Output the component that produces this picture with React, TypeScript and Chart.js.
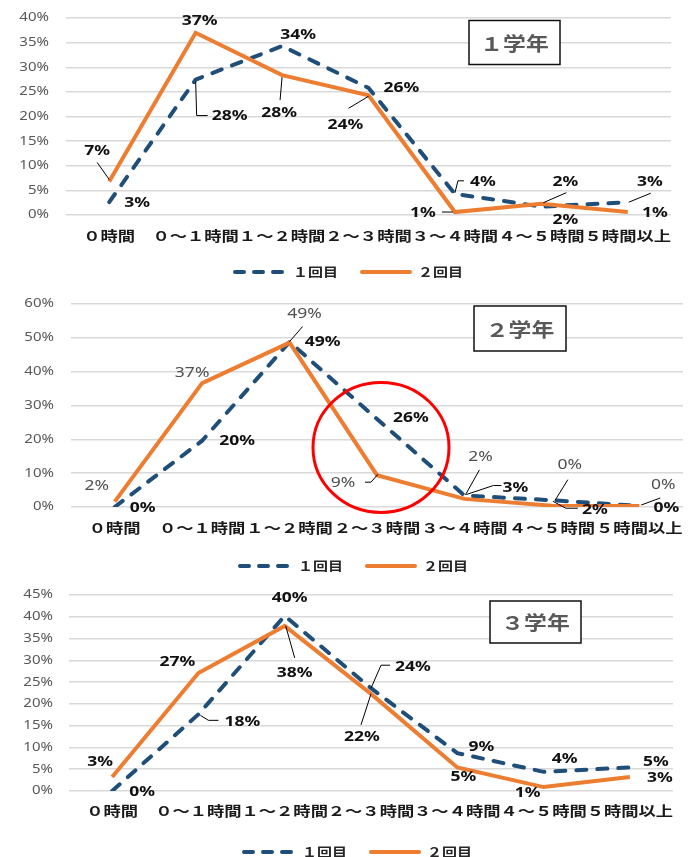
import React, { useEffect, useRef } from 'react';
import { Chart, registerables } from 'chart.js';

Chart.register(...registerables);

// ---------- data ----------
const categories = ['０時間', '０～１時間', '１～２時間', '２～３時間', '３～４時間', '４～５時間', '５時間以上'];
const seriesNames = ['１回目', '２回目'];
const titles = ['１学年', '２学年', '３学年'];

const grade1First = [2.6, 27.5, 34.3, 25.8, 4.3, 1.7, 2.6];
const grade1Second = [6.8, 37, 28.4, 24.3, 0.6, 2.3, 0.6];
const grade2First = [0, 19.6, 48.8, 26, 3.4, 2.0, 0.3];
const grade2Second = [1.6, 36.6, 48.6, 9.4, 2.4, 0.4, 0.3];
const grade3First = [0, 17.6, 40.2, 23.6, 8.7, 4.4, 5.4];
const grade3Second = [3.2, 27.1, 37.9, 22.3, 5.4, 0.9, 3.2];

const grade1Ticks = [0, 5, 10, 15, 20, 25, 30, 35, 40];
const grade2Ticks = [0, 10, 20, 30, 40, 50, 60];
const grade3Ticks = [0, 5, 10, 15, 20, 25, 30, 35, 40, 45];

// ---------- styles / layout ----------
const BLUE = '#1F4E79';
const ORANGE = '#ED7D31';
const FONT = '"Noto Sans", "Noto Sans CJK JP", sans-serif';
const CJK_FONT = '"Noto Sans CJK JP", "Noto Sans", sans-serif';

type Pt = [number, number];
interface SeriesLayout {
  offsets: Pt[];
  leaders: Record<number, Pt[]>;
  color: string;
  weight: string;
}

const layout1: SeriesLayout[] = [
  {
    offsets: [[28, 1], [34, 36], [16, -11], [33, 0], [28, -12], [24, 13], [22, -20]],
    leaders: { 1: [[0, 2], [1, 36], [12, 36]], 4: [[0, -1], [3, -13], [9, -13]], 6: [[1, 0], [23, -9]] },
    color: '#111', weight: 'bold',
  },
  {
    offsets: [[-12, -30], [4, -12], [-3, 38], [-23, 30], [-32, 1], [24, -22], [27, 1]],
    leaders: { 0: [[0, -2], [-12, -19]], 2: [[0, 2], [-2, 25]], 3: [[0, 1], [-20, 13]], 4: [[-2, 0], [-13, 0]], 5: [[2, -1], [25, -11]] },
    color: '#111', weight: 'bold',
  },
];
const layout2: SeriesLayout[] = [
  {
    offsets: [[28, 1], [35, 0], [33, 0], [34, -1], [51, -7], [43, 10], [27, 2]],
    leaders: { 4: [[2, -1], [29, -10], [37, -10]], 5: [[1, 1], [14, 8], [26, 8]] },
    color: '#111', weight: 'bold',
  },
  {
    offsets: [[-18, -16], [-10, -10], [15, -29], [-34, 8], [16, -42], [18, -41], [24, -21]],
    leaders: { 2: [[0, -1], [13, -16]], 3: [[1, -1], [-6, 7], [-12, 7]], 4: [[1, -4], [15, -29]], 5: [[3, -5], [16, -26]], 6: [[2, -1], [21, -8]] },
    color: '#505050', weight: 'normal',
  },
];
const layout3: SeriesLayout[] = [
  {
    offsets: [[30, 1], [44, 8], [5, -18], [42, -21], [24, -6], [21, -13], [26, -5]],
    leaders: { 1: [[2, 1], [10, 6], [20, 6]], 3: [[0, 0], [10, -23], [19, -23]] },
    color: '#111', weight: 'bold',
  },
  {
    offsets: [[-12, -15], [-21, -11], [10, 47], [-9, 43], [6, 10], [-16, 6], [30, 1]],
    leaders: { 2: [[1, 0], [10, 32]], 3: [[0, 0], [-10, 31]] },
    color: '#111', weight: 'bold',
  },
];

interface Panel {
  title: string;
  first: number[];
  second: number[];
  ticks: number[];
  top: number;
  height: number;
  yWidth: number;
  padTop: number;
  padRight: number;
  xHeight: number;
  tickPad: number;
  xLabelGap: number;
  box: { cx: number; cy: number; w: number; h: number };
  legend: { x: number; y: number };
  layout: SeriesLayout[];
  circle: null | { index: number; value: number; dx: number; rx: number; ry: number };
}

const panels: Panel[] = [
  {
    title: titles[0], first: grade1First, second: grade1Second, ticks: grade1Ticks,
    top: 0, height: 290, yWidth: 66, padTop: 18, padRight: 25, xHeight: 75, tickPad: 17, xLabelGap: 21,
    box: { cx: 514.5, cy: 42.5, w: 91, h: 44 }, legend: { x: 233, y: 272 }, layout: layout1, circle: null,
  },
  {
    title: titles[1], first: grade2First, second: grade2Second, ticks: grade2Ticks,
    top: 290, height: 290, yWidth: 71, padTop: 14, padRight: 13, xHeight: 73, tickPad: 17, xLabelGap: 21,
    box: { cx: 520, cy: 38.5, w: 92, h: 45 }, legend: { x: 238, y: 276 }, layout: layout2,
    circle: { index: 3, value: 17.6, dx: 4, rx: 68, ry: 65 },
  },
  {
    title: titles[2], first: grade3First, second: grade3Second, ticks: grade3Ticks,
    top: 580, height: 277, yWidth: 69, padTop: 15, padRight: 23, xHeight: 66, tickPad: 16, xLabelGap: 20,
    box: { cx: 535.5, cy: 42, w: 91, h: 42 }, legend: { x: 242, y: 272 }, layout: layout3, circle: null,
  },
];

function drawText(
  ctx: CanvasRenderingContext2D, text: string, x: number, y: number,
  size: number, weight: string, color: string, align: CanvasTextAlign = 'center', sx = 1.25, family = FONT,
) {
  ctx.save();
  ctx.font = `${weight} ${size}px ${family}`;
  ctx.fillStyle = color;
  ctx.textAlign = align;
  ctx.textBaseline = 'middle';
  ctx.translate(x, y);
  ctx.scale(sx, 1);
  ctx.fillText(text, 0, 0);
  ctx.restore();
}

function makeOverlay(p: Panel) {
  return {
    id: 'overlay',
    afterDraw(chart: any) {
      const ctx: CanvasRenderingContext2D = chart.ctx;
      const { left, bottom } = chart.chartArea;
      const xs = chart.scales.x;
      const ys = chart.scales.y;

      // y tick labels
      p.ticks.forEach((v) => {
        drawText(ctx, `${v}%`, left - p.tickPad, ys.getPixelForValue(v), 12, 'normal', '#595959', 'right', 1.25);
      });
      // x category labels
      categories.forEach((c, i) => {
        drawText(ctx, c, xs.getPixelForValue(i), bottom + p.xLabelGap, 13.5, 'bold', '#1a1a1a', 'center', 1.28, CJK_FONT);
      });

      // red circle annotation
      if (p.circle) {
        const cx = xs.getPixelForValue(p.circle.index) + p.circle.dx;
        const cy = ys.getPixelForValue(p.circle.value);
        ctx.save();
        ctx.strokeStyle = '#FF0000';
        ctx.lineWidth = 3;
        ctx.beginPath();
        ctx.ellipse(cx, cy, p.circle.rx, p.circle.ry, 0, 0, Math.PI * 2);
        ctx.stroke();
        ctx.restore();
      }

      // leader lines & data labels
      [0, 1].forEach((di) => {
        const meta = chart.getDatasetMeta(di);
        const lay = p.layout[di];
        const vals = di === 0 ? p.first : p.second;
        meta.data.forEach((pt: any, i: number) => {
          const lead = lay.leaders[i];
          if (lead) {
            ctx.save();
            ctx.strokeStyle = '#000';
            ctx.lineWidth = 1;
            ctx.beginPath();
            lead.forEach(([dx, dy], k) => {
              if (k === 0) ctx.moveTo(pt.x + dx, pt.y + dy);
              else ctx.lineTo(pt.x + dx, pt.y + dy);
            });
            ctx.stroke();
            ctx.restore();
          }
          const [dx, dy] = lay.offsets[i];
          drawText(ctx, `${Math.round(vals[i])}%`, pt.x + dx, pt.y + dy, 14, lay.weight, lay.color, 'center', 1.25);
        });
      });

      // title box
      const b = p.box;
      ctx.save();
      ctx.fillStyle = '#fff';
      ctx.fillRect(b.cx - b.w / 2, b.cy - b.h / 2, b.w, b.h);
      ctx.strokeStyle = '#111';
      ctx.lineWidth = 1.5;
      ctx.strokeRect(b.cx - b.w / 2, b.cy - b.h / 2, b.w, b.h);
      ctx.restore();
      drawText(ctx, p.title, b.cx, b.cy + 1, 19, 'bold', '#595959', 'center', 1.2, CJK_FONT);

      // legend
      const lx = p.legend.x;
      const ly = p.legend.y;
      ctx.save();
      ctx.lineWidth = 4;
      ctx.lineCap = 'round';
      ctx.strokeStyle = BLUE;
      ctx.setLineDash([9, 10]);
      ctx.beginPath();
      ctx.moveTo(lx + 2, ly);
      ctx.lineTo(lx + 52, ly);
      ctx.stroke();
      ctx.setLineDash([]);
      ctx.strokeStyle = ORANGE;
      ctx.beginPath();
      ctx.moveTo(lx + 129, ly);
      ctx.lineTo(lx + 177, ly);
      ctx.stroke();
      ctx.restore();
      drawText(ctx, seriesNames[0], lx + 60, ly, 12.5, 'bold', '#262626', 'left', 1.2, CJK_FONT);
      drawText(ctx, seriesNames[1], lx + 185, ly, 12.5, 'bold', '#262626', 'left', 1.2, CJK_FONT);
    },
  };
}

function ChartPanel({ p }: { p: Panel }) {
  const ref = useRef<HTMLCanvasElement>(null);
  useEffect(() => {
    const ticks = p.ticks;
    const chart = new Chart(ref.current as HTMLCanvasElement, {
      type: 'line',
      data: {
        labels: categories,
        datasets: [
          {
            label: seriesNames[0],
            data: p.first,
            borderColor: BLUE,
            backgroundColor: BLUE,
            borderWidth: 4,
            borderDash: [10, 11],
            borderCapStyle: 'round',
            pointRadius: 0,
            tension: 0,
            fill: false,
            order: 2,
          },
          {
            label: seriesNames[1],
            data: p.second,
            borderColor: ORANGE,
            backgroundColor: ORANGE,
            borderWidth: 4,
            pointRadius: 0,
            tension: 0,
            fill: false,
            order: 1,
          },
        ],
      },
      options: {
        responsive: false,
        animation: false,
        events: [],
        layout: { padding: { top: p.padTop, right: p.padRight, left: 0, bottom: 0 } },
        plugins: { legend: { display: false }, tooltip: { enabled: false }, title: { display: false } },
        scales: {
          x: {
            type: 'category',
            offset: true,
            grid: { display: false },
            border: { display: false },
            ticks: { display: false },
            afterFit: (s: any) => { s.height = p.xHeight; },
          },
          y: {
            min: 0,
            max: ticks[ticks.length - 1],
            grid: { color: '#d9d9d9', lineWidth: 1.5, drawTicks: false },
            border: { display: false },
            ticks: { display: false },
            afterBuildTicks: (s: any) => { s.ticks = ticks.map((v) => ({ value: v })); },
            afterFit: (s: any) => { s.width = p.yWidth; },
          },
        },
      } as any,
      plugins: [makeOverlay(p)],
    });
    return () => chart.destroy();
  }, [p]);
  return (
    <canvas
      ref={ref}
      width={696}
      height={p.height}
      style={{ position: 'absolute', left: 0, top: p.top, width: 696, height: p.height, display: 'block' }}
    />
  );
}

export default function App() {
  return (
    <div style={{ position: 'absolute', left: 0, top: 0, width: 696, height: 857, background: '#fff', overflow: 'hidden' }}>
      {panels.map((p, i) => (
        <ChartPanel key={i} p={p} />
      ))}
    </div>
  );
}
